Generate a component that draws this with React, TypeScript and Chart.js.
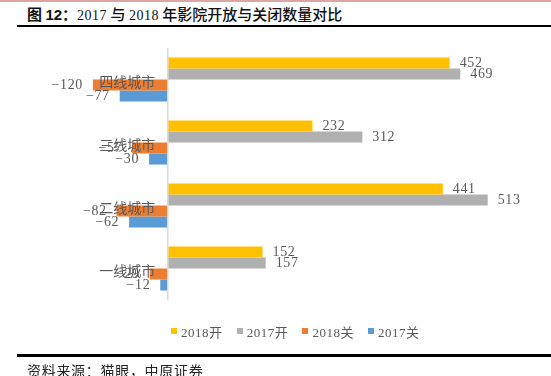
import React, { useEffect, useRef } from 'react';
import { Chart, registerables } from 'chart.js';

Chart.register(...registerables);

const categories = ['四线城市', '三线城市', '二线城市', '一线城市'];
const seriesNames = ['2018开', '2017开', '2018关', '2017关'];
const open2018 = [452, 232, 441, 152];
const open2017 = [469, 312, 513, 157];
const close2018 = [-120, -57, -82, -29];
const close2017 = [-77, -30, -62, -12];
const seriesColors = ['#FFC000', '#B0B0B0', '#ED7D31', '#5B9BD5'];
const xMin = -200;
const xMax = 600;
const labelAnchor = -20;

const valueLabels = {
  id: 'valueLabels',
  afterDatasetsDraw(chart: any) {
    const ctx = chart.ctx;
    ctx.save();
    ctx.font = '14px "Liberation Serif", "Times New Roman", serif';
    ctx.fillStyle = '#595959';
    ctx.textBaseline = 'middle';
    try { (ctx as any).letterSpacing = '0.6px'; } catch (e) {}
    chart.data.datasets.forEach((ds: any, di: number) => {
      const meta = chart.getDatasetMeta(di);
      meta.data.forEach((bar: any, i: number) => {
        const v = ds.data[i];
        const txt = v < 0 ? '\u2212' + Math.abs(v) : String(v);
        if (v >= 0) {
          ctx.textAlign = 'left';
          ctx.fillText(txt, bar.x + 10, bar.y);
        } else {
          ctx.textAlign = 'right';
          ctx.fillText(txt, bar.x - 10, bar.y);
        }
      });
    });
    ctx.restore();
  },
};

function ChartCanvas() {
  const ref = useRef<HTMLCanvasElement | null>(null);
  useEffect(() => {
    if (!ref.current) return;
    const seriesData = [open2018, open2017, close2018, close2017];
    const chart = new Chart(ref.current, {
      type: 'bar',
      data: {
        labels: categories,
        datasets: seriesNames.map((name, i) => ({
          label: name,
          data: seriesData[i],
          backgroundColor: seriesColors[i],
          borderWidth: 0,
          categoryPercentage: 0.7,
          barPercentage: 1,
        })),
      },
      options: {
        indexAxis: 'y',
        animation: false,
        responsive: false,
        maintainAspectRatio: false,
        layout: { padding: { left: 43, right: 9, top: 48, bottom: 76 } },
        plugins: { legend: { display: false }, tooltip: { enabled: false } },
        scales: {
          x: {
            type: 'linear',
            min: xMin,
            max: xMax,
            display: true,
            ticks: { display: false, stepSize: 100 },
            grid: {
              drawTicks: false,
              lineWidth: 1.5,
              color: (c: any) => (c.tick && c.tick.value === 0 ? '#D9D9D9' : 'rgba(0,0,0,0)'),
            },
            border: { display: false },
          },
          y: {
            position: { x: labelAnchor } as any,
            grid: { display: false, drawTicks: false },
            border: { display: false },
            ticks: {
              z: 2,
              padding: 0,
              labelOffset: 2,
              color: '#595959',
              font: { size: 14, family: '"Noto Sans CJK SC", sans-serif' },
            } as any,
          },
        },
      },
      plugins: [valueLabels],
    });
    return () => chart.destroy();
  }, []);
  return <canvas ref={ref} width={551} height={376} style={{ position: 'absolute', left: 0, top: 0, width: 551, height: 376 }} />;
}

export default function App() {
  const cjk = '"Noto Sans CJK SC", sans-serif';
  const serifNum = '"Liberation Serif", "Times New Roman", serif';
  return (
    <div style={{ position: 'fixed', left: 0, top: 0, width: 551, height: 376, background: '#fff', overflow: 'hidden' }}>
      <div style={{ position: 'absolute', left: 0, top: 0, width: 551, height: 2, background: '#DDA6A6' }} />
      <div style={{ position: 'absolute', left: 27, top: 4, height: 20, lineHeight: '20px', whiteSpace: 'nowrap', color: '#111', fontSize: 15, fontFamily: cjk }}>
        <span style={{ fontWeight: 700 }}>图 </span>
        <span style={{ fontWeight: 700, fontFamily: '"Liberation Sans", Arial, sans-serif' }}>12</span>
        <span style={{ fontWeight: 700 }}>：</span>
        <span style={{ fontFamily: serifNum, fontSize: 14, letterSpacing: 0.5 }}>2017</span>
        <span style={{ fontWeight: 500 }}> 与 </span>
        <span style={{ fontFamily: serifNum, fontSize: 14, letterSpacing: 0.5 }}>2018</span>
        <span style={{ fontWeight: 500 }}> 年影院开放与关闭数量对比</span>
      </div>
      <div style={{ position: 'absolute', left: 17, top: 25, width: 534, height: 2, background: '#000' }} />
      <ChartCanvas />
      <div style={{ position: 'absolute', left: 0, top: 322, width: 551, height: 18, display: 'flex', justifyContent: 'flex-start', paddingLeft: 171, boxSizing: 'border-box' }}>
        {seriesNames.map((name, i) => (
          <div key={name} style={{ display: 'flex', alignItems: 'center', width: 65.7, height: 18 }}>
            <span style={{ display: 'inline-block', width: 6, height: 6, background: seriesColors[i], marginRight: 4 }} />
            <span style={{ fontFamily: serifNum, fontSize: 13, color: '#595959', letterSpacing: 0.5, whiteSpace: 'nowrap' }}>
              {name.slice(0, 4)}
              <span style={{ fontFamily: cjk, fontSize: 13 }}>{name.slice(4)}</span>
            </span>
          </div>
        ))}
      </div>
      <div style={{ position: 'absolute', left: 17, top: 354, width: 534, height: 3, background: '#000' }} />
      <div style={{ position: 'absolute', left: 27, top: 360, height: 20, lineHeight: '20px', whiteSpace: 'nowrap', color: '#222', fontSize: 14, fontFamily: cjk, letterSpacing: 0.7 }}>
        资料来源：猫眼，中原证券
      </div>
    </div>
  );
}
